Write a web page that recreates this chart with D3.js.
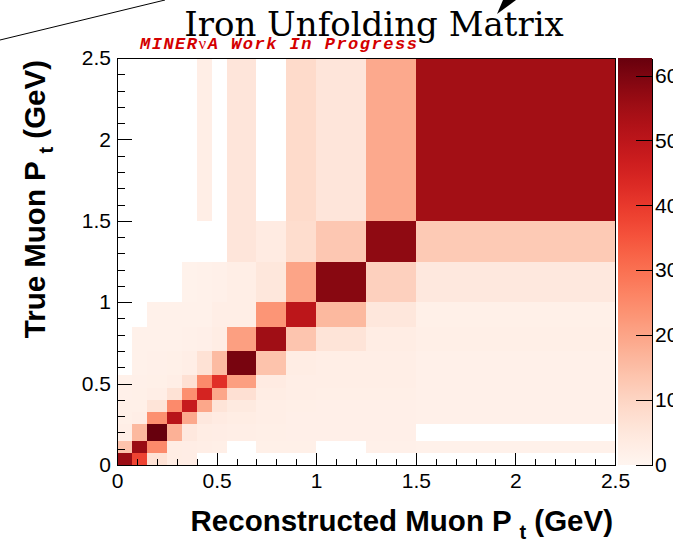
<!DOCTYPE html>
<html>
<head>
<meta charset="utf-8">
<script src="https://cdn.jsdelivr.net/npm/d3@7/dist/d3.min.js"></script>
<style>
  html, body { margin: 0; padding: 0; background: #fff; }
  svg { display: block; }
</style>
</head>
<body>
<svg id="chart" width="673" height="541"></svg>
<script>
// Variable-width Pt bins (GeV), shared by the reconstructed (x) and true (y) axes
const recoEdges = [0, 0.075, 0.15, 0.25, 0.325, 0.4, 0.475, 0.55, 0.7, 0.85, 1.0, 1.25, 1.5, 2.5];
const trueEdges = [0, 0.075, 0.15, 0.25, 0.325, 0.4, 0.475, 0.55, 0.7, 0.85, 1.0, 1.25, 1.5, 2.5];

// Migration content, one array per true-Pt bin (lowest first), one entry per reco-Pt bin
const true_000_075 = [56, 38, 6.5, 3, 2.8, 0, 0, 0, 0, 0, 0, 0, 0];
const true_075_150 = [14, 56, 25, 3, 2.8, 2.5, 2.3, 0, 2, 2, 0, 1.8, 1.5];
const true_150_250 = [2.5, 16, 62.7, 17.5, 4.5, 3, 2.8, 2.5, 2.3, 2.2, 2.2, 2.2, 0];
const true_250_325 = [2, 2.5, 24, 51, 19, 4.5, 3.5, 3, 2.5, 2.2, 2.2, 2.2, 1.8];
const true_325_400 = [2, 2, 6, 25, 48, 19.5, 6, 4, 2.5, 2.3, 2.2, 2.2, 1.8];
const true_400_475 = [1.8, 2, 2.5, 6.5, 24, 45, 19.5, 7, 3, 2.5, 2.3, 2.3, 1.8];
const true_475_550 = [1.5, 1.8, 2, 2.5, 7, 25, 42, 21, 3.5, 2.5, 2.5, 2.5, 1.8];
const true_550_700 = [0, 1.5, 1.8, 2, 2.5, 6.5, 15.5, 60.5, 14, 3, 2.5, 2.5, 1.8];
const true_700_850 = [0, 1.5, 1.5, 1.5, 1.8, 2.2, 3, 21, 55, 13.5, 6, 3, 2.3];
const true_850_1000 = [0, 0, 1.5, 1.5, 1.5, 1.5, 2.5, 2.5, 23, 50, 16, 5, 2];
const true_1000_1250 = [0, 0, 0, 0, 1.3, 1.5, 1.8, 2.5, 5, 20, 58.5, 11, 4.5];
const true_1250_1500 = [0, 0, 0, 0, 0, 0, 0, 5.5, 3.5, 8, 13, 57.5, 12.5];
const true_1500_2500 = [0, 0, 0, 0, 0, 2.5, 0, 5.5, 0, 8.5, 5.5, 19, 54.5];

const matrixRows = [true_000_075, true_075_150, true_150_250, true_250_325, true_325_400,
  true_400_475, true_475_550, true_550_700, true_700_850, true_850_1000,
  true_1000_1250, true_1250_1500, true_1500_2500];

const axisTicks = [0, 0.5, 1, 1.5, 2, 2.5];
const paletteTicks = [0, 10, 20, 30, 40, 50, 60];

const titleText = "Iron Unfolding Matrix";
const bannerText = ["MINER", "\u03BD", "A Work In Progress"];

// ---- layout ----
const svg = d3.select("#chart");
const frame = { left: 117, right: 615, top: 58, bottom: 465 };
const bar = { x: 618, width: 34 };

const x = d3.scaleLinear().domain([0, 2.5]).range([frame.left, frame.right]);
const y = d3.scaleLinear().domain([0, 2.5]).range([frame.bottom, frame.top]);

const zMax = d3.max(matrixRows.flat());
const color = d3.scaleSequential(d3.interpolateReds).domain([0, zMax]);

svg.append("rect").attr("width", 673).attr("height", 541).attr("fill", "#fff");

// ---- cells ----
const cells = [];
matrixRows.forEach((row, i) => row.forEach((v, j) => {
  if (v > 0) cells.push({ i, j, v });
}));

svg.append("g")
  .attr("shape-rendering", "crispEdges")
  .selectAll("rect")
  .data(cells)
  .join("rect")
  .attr("x", d => x(recoEdges[d.j]))
  .attr("width", d => x(recoEdges[d.j + 1]) - x(recoEdges[d.j]))
  .attr("y", d => y(trueEdges[d.i + 1]))
  .attr("height", d => y(trueEdges[d.i]) - y(trueEdges[d.i + 1]))
  .attr("fill", d => color(d.v));

// ---- frame ----
svg.append("rect")
  .attr("x", frame.left).attr("y", frame.top)
  .attr("width", frame.right - frame.left).attr("height", frame.bottom - frame.top)
  .attr("fill", "none").attr("stroke", "#000").attr("stroke-width", 1)
  .attr("shape-rendering", "crispEdges");

const fmt = d3.format("~g");
const minorTicks = d3.range(0, 25.5, 1).map(k => k / 10);

function styleAxis(g) {
  g.attr("font-family", "'Liberation Sans', Arial, sans-serif")
   .attr("font-size", 21)
   .attr("shape-rendering", "crispEdges");
  g.selectAll("text").attr("fill", "#000");
  g.selectAll("line").attr("stroke", "#000");
  g.select(".domain").attr("stroke", "#000");
}

// x axis (ticks pointing into the frame)
svg.append("g")
  .attr("transform", `translate(0,${frame.bottom})`)
  .call(d3.axisBottom(x).tickValues(minorTicks).tickSize(-6).tickSizeOuter(0).tickFormat(""))
  .call(styleAxis);
svg.append("g")
  .attr("transform", `translate(0,${frame.bottom})`)
  .call(d3.axisBottom(x).tickValues(axisTicks).tickSize(-12).tickSizeOuter(0).tickPadding(8).tickFormat(fmt))
  .call(styleAxis);

// y axis
svg.append("g")
  .attr("transform", `translate(${frame.left},0)`)
  .call(d3.axisLeft(y).tickValues(minorTicks).tickSize(-7.5).tickSizeOuter(0).tickFormat(""))
  .call(styleAxis);
svg.append("g")
  .attr("transform", `translate(${frame.left},0)`)
  .call(d3.axisLeft(y).tickValues(axisTicks).tickSize(-15).tickSizeOuter(0).tickPadding(6).tickFormat(fmt))
  .call(styleAxis);

// ---- palette bar ----
const grad = svg.append("defs").append("linearGradient")
  .attr("id", "palette").attr("x1", 0).attr("y1", 1).attr("x2", 0).attr("y2", 0);
grad.selectAll("stop")
  .data(d3.range(0, 1.0001, 0.02))
  .join("stop")
  .attr("offset", d => d)
  .attr("stop-color", d => d3.interpolateReds(d));

svg.append("rect")
  .attr("x", bar.x).attr("y", frame.top)
  .attr("width", bar.width).attr("height", frame.bottom - frame.top)
  .attr("fill", "url(#palette)");

const z = d3.scaleLinear().domain([0, zMax]).range([frame.bottom, frame.top]);
svg.append("g")
  .attr("transform", `translate(${bar.x + bar.width},0)`)
  .call(d3.axisRight(z).tickValues(paletteTicks).tickSize(-16).tickSizeOuter(0).tickPadding(3).tickFormat(fmt))
  .call(styleAxis);

// ---- axis titles ----
const xTitle = svg.append("text")
  .attr("x", 613).attr("y", 531)
  .attr("text-anchor", "end")
  .attr("font-family", "'Liberation Sans', Arial, sans-serif")
  .attr("font-weight", "bold").attr("font-size", 29.5).attr("fill", "#000");
xTitle.append("tspan").text("Reconstructed Muon P ");
xTitle.append("tspan").attr("dy", 8).attr("font-size", 20).text("t");
xTitle.append("tspan").attr("dy", -8).text(" (GeV)");

const yTitle = svg.append("text")
  .attr("transform", "translate(45,60) rotate(-90)")
  .attr("text-anchor", "end")
  .attr("font-family", "'Liberation Sans', Arial, sans-serif")
  .attr("font-weight", "bold").attr("font-size", 29.5).attr("fill", "#000");
yTitle.append("tspan").text("True Muon P ");
yTitle.append("tspan").attr("dy", 8).attr("font-size", 20).text("t");
yTitle.append("tspan").attr("dy", -8).text(" (GeV)");

// ---- title and banner ----
svg.append("text")
  .attr("x", 374).attr("y", 36)
  .attr("text-anchor", "middle")
  .attr("font-family", "'DejaVu Serif', serif")
  .attr("font-size", 34).attr("fill", "#000")
  .text(titleText);

const banner = svg.append("text")
  .attr("x", 140).attr("y", 49)
  .attr("font-family", "'Liberation Mono', 'Courier New', monospace")
  .attr("font-size", 17).attr("font-weight", "bold").attr("font-style", "italic")
  .attr("letter-spacing", 1.5)
  .attr("fill", "#d40000");
banner.append("tspan").text(bannerText[0]);
banner.append("tspan").attr("font-family", "'Liberation Serif', serif").attr("font-weight", "normal").attr("font-style", "normal").text(bannerText[1]);
banner.append("tspan").text(bannerText[2]);

// stray annotation strokes along the top edge
svg.append("line")
  .attr("x1", 0).attr("y1", 40).attr("x2", 165).attr("y2", 0)
  .attr("stroke", "#000").attr("stroke-width", 1);
svg.append("path")
  .attr("d", "M497,14 L503,0 L516,0 Z")
  .attr("fill", "#000");
</script>
</body>
</html>
